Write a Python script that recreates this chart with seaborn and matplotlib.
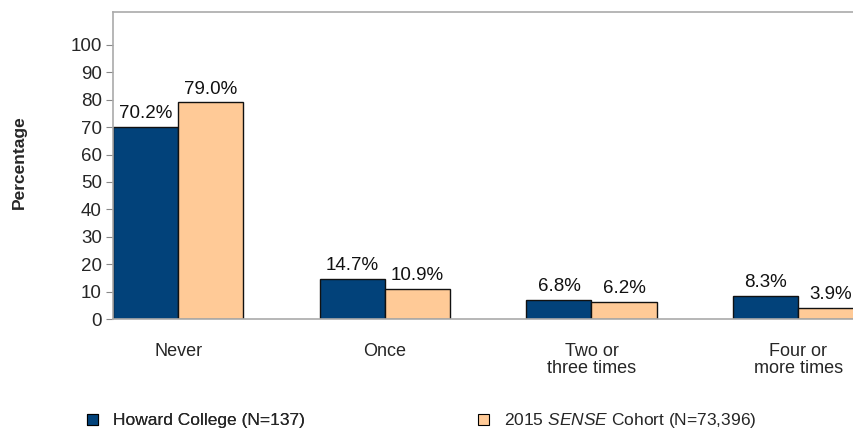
import matplotlib
matplotlib.use("Agg")
import matplotlib.pyplot as plt
import seaborn as sns
import pandas as pd
from matplotlib.patches import Patch

categories = ["Never", "Once", "Two or\nthree times", "Four or\nmore times"]
howard = [70.2, 14.7, 6.8, 8.3]
sense = [79.0, 10.9, 6.2, 3.9]
series = ["Howard College (N=137)", "2015 $\\it{SENSE}$ Cohort (N=73,396)"]
yticks = list(range(0, 101, 10))

sns.set_theme(style="white")
plt.rcParams['font.family'] = ['Liberation Sans', 'DejaVu Sans']
plt.rcParams['mathtext.fontset'] = 'custom'
plt.rcParams['mathtext.it'] = 'Liberation Sans:italic'
plt.rcParams['mathtext.rm'] = 'Liberation Sans'

df = pd.DataFrame({
    "cat": categories * 2,
    "val": howard + sense,
    "series": [series[0]] * 4 + [series[1]] * 4,
})
colors = ["#02427A", "#FFCA97"]

fig = plt.figure(figsize=(8.54, 4.29), dpi=100)
ax = fig.add_axes([113 / 854, 1 - 319 / 429, 1 - 113 / 854, (319 - 12) / 429])
sns.barplot(data=df, x="cat", y="val", hue="series", palette=colors,
            width=0.63, gap=0, edgecolor="#111111", linewidth=1.0,
            legend=False, ax=ax, saturation=1)

for cont in ax.containers:
    ax.bar_label(cont, labels=[f"{v:.1f}%" for v in cont.datavalues],
                 padding=3.5, fontsize=13.5, color="#111111")

ax.set_xlim(-0.315, 3.27)
ax.set_ylim(0, 112)
ax.set_yticks(yticks)
ax.set_yticklabels([str(t) for t in yticks], fontsize=13.5)
ax.tick_params(axis="y", length=5, width=0.8, color="#888888", pad=3, left=True)
ax.tick_params(axis="x", length=0, pad=17, labelsize=13)
for lab in ax.get_xticklabels():
    lab.set_linespacing(1.05)
ax.set_xlabel("")
ax.set_ylabel("")
fig.text(19 / 854, 1 - 162 / 429, "Percentage", rotation=90, ha="center",
         va="center", fontsize=12.5, fontweight="bold")
for s in ["top", "left", "bottom"]:
    ax.spines[s].set_color("#AAAAAA")
    ax.spines[s].set_linewidth(1.2)
ax.spines["right"].set_visible(False)

handles = [Patch(facecolor=colors[0], edgecolor="black", linewidth=0.8),
           Patch(facecolor=colors[1], edgecolor="black", linewidth=0.8)]
kw = dict(loc="center left", frameon=False, fontsize=12.5, handlelength=0.65,
          handleheight=0.65, handletextpad=0.85, borderpad=0, borderaxespad=0)
leg1 = fig.legend([handles[0]], [series[0]],
                  bbox_to_anchor=(87 / 854, 1 - 421 / 429), **kw)
leg2 = fig.legend([handles[1]], [series[1]],
                  bbox_to_anchor=(478 / 854, 1 - 421 / 429), **kw)
fig.add_artist(leg1)

fig.savefig("out.png", dpi=100)
